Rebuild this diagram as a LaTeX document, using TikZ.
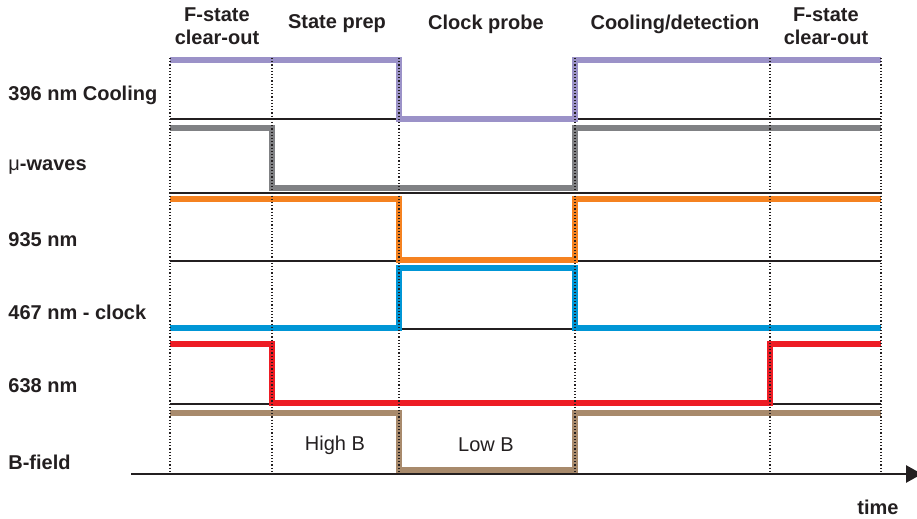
\documentclass[tikz,border=0pt]{standalone}
\usepackage{fontspec}
\setmainfont{Liberation Sans}
\usetikzlibrary{arrows.meta}

\definecolor{coolviolet}{RGB}{155,146,200}
\definecolor{mwgray}{RGB}{128,129,132}
\definecolor{repumporange}{RGB}{245,130,32}
\definecolor{clockblue}{RGB}{0,150,214}
\definecolor{clearred}{RGB}{237,28,36}
\definecolor{bfieldbrown}{RGB}{168,138,108}
\definecolor{inkgray}{RGB}{35,31,32}

\tikzset{
  pulse/.style={line width=2.6pt, line join=miter},
  zeroline/.style={line width=0.6pt, inkgray},
  guide/.style={densely dotted, line width=0.6pt, inkgray},
  rowlabel/.style={anchor=west, inner sep=0pt, text=inkgray, font=\bfseries},
  phase/.style={inner sep=0pt, align=center, text=inkgray, font=\bfseries\fontsize{10}{11.5}\selectfont},
}

\begin{document}
\begin{tikzpicture}[x=0.5pt,y=-0.5pt]
\useasboundingbox (0,0) rectangle (917,519);

%% zero lines of each channel
\draw[zeroline] (170,119) -- (881,119);
\draw[zeroline] (170,193) -- (881,193);
\draw[zeroline] (170,261) -- (881,261);
\draw[zeroline] (170,329) -- (881,329);
\draw[zeroline] (170,404) -- (881,404);

% 396 nm cooling
\draw[pulse,coolviolet] (170,60) -- (399,60) -- (399,119) -- (575,119) -- (575,60) -- (881,60);

% mu-waves
\draw[pulse,mwgray] (170,128) -- (272,128) -- (272,188) -- (575,188) -- (575,128) -- (881,128);

% 935 nm
\draw[pulse,repumporange] (170,199) -- (399,199) -- (399,260) -- (575,260) -- (575,199) -- (881,199);

% 467 nm clock
\draw[pulse,clockblue] (170,328) -- (399,328) -- (399,268) -- (575,268) -- (575,328) -- (881,328);

% 638 nm
\draw[pulse,clearred] (170,344) -- (272,344) -- (272,403) -- (770,403) -- (770,344) -- (881,344);

% B-field
\draw[pulse,bfieldbrown] (170,413) -- (399,413) -- (399,470) -- (575,470) -- (575,413) -- (881,413);

%% phase boundaries
\draw[guide] (170,58) -- (170,472);
\draw[guide] (272,58) -- (272,472);
\draw[guide] (399,58) -- (399,472);
\draw[guide] (575,58) -- (575,472);
\draw[guide] (770,58) -- (770,472);
\draw[guide] (881,58) -- (881,472);

%% time axis (tip runs off the right edge)
\coordinate (tstart) at (131,474);
\coordinate (tend) at (922,474);
\draw[line width=1.4pt, inkgray, -{Triangle[length=8pt,width=8.5pt]}] (tstart) -- (tend);
\node[phase] (timelab) at (878,507) {time};

%% phase names
\node[phase] (clear1) at (217,26) {F-state\\clear-out};
\node[phase] (prep) at (337,24) {State prep};
\node[phase] (probe) at (486,24) {Clock probe};
\node[phase] (detect) at (675,24) {Cooling/detection};
\node[phase] (clear2) at (826,26) {F-state\\clear-out};

%% channel names
\node[rowlabel] (lcool) at (8,95) {396 nm Cooling};
\node[rowlabel] (lmw) at (8,167) {{\mdseries μ}-waves};
\node[rowlabel] (lrepump) at (8,240) {935 nm};
\node[rowlabel] (lclock) at (8,312) {467 nm - clock};
\node[rowlabel] (lclear) at (8,386) {638 nm};
\node[rowlabel] (lbfield) at (8,462) {B-field};

% field values
\node[inner sep=0pt, text=inkgray] (highb) at (335,445) {High B};
\node[inner sep=0pt, text=inkgray] (lowb) at (486,445) {Low B};

\end{tikzpicture}
\end{document}
